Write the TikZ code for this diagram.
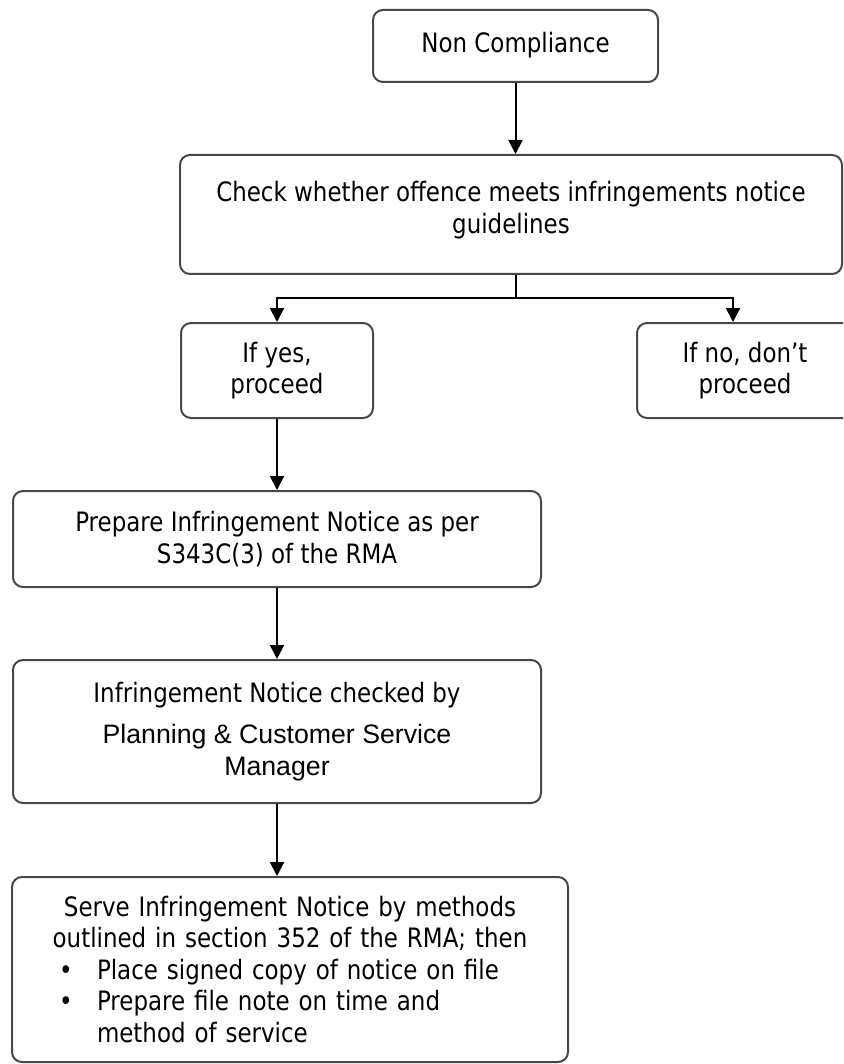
\documentclass[tikz,border=0pt]{standalone}
\usepackage{fontspec}
\setmainfont{DejaVu Sans}[FakeStretch=0.86]
\newfontfamily\arialfont{Liberation Sans}
\usetikzlibrary{arrows.meta}

\definecolor{boxgray}{HTML}{474747}

\newcommand{\bulletline}[1]{\makebox[\hsize][l]{\hspace*{29pt}\makebox[38pt][l]{\textbullet}#1}}
\newcommand{\hangline}[1]{\makebox[\hsize][l]{\hspace*{67pt}#1}}
\newcommand{\lift}[1]{\rule[-#1]{0pt}{#1}}

\begin{document}
\begin{tikzpicture}[x=1pt, y=-1pt]
  \tikzstyle{box}  = [draw=boxgray, line width=2pt, rounded corners=10pt, align=center, inner sep=0pt, font=\fontsize{26.7}{31.5}\selectfont];
  \tikzstyle{link} = [draw=black, line width=2pt];
  \tikzstyle{flow} = [link, -{Triangle[length=14pt, width=14pt]}];

  \clip (0,0) rectangle (843,1064);

  \node[box, minimum width=285pt, minimum height=72pt]  (noncomp) at (515.5, 46)   {Non Compliance\lift{8pt}};
  \node[box, minimum width=662pt, minimum height=119pt] (check)   at (511, 214.5)  {Check whether offence meets infringements notice\\guidelines\lift{14pt}};
  \node[box, minimum width=192pt, minimum height=95pt]  (yes)     at (277, 370.5)  {If yes,\\proceed};
  \node[box, minimum width=216pt, minimum height=95pt]  (no)      at (745, 370.5)  {If no, don't\\proceed};
  \node[box, minimum width=528pt, minimum height=96pt]  (prep)    at (277, 539)    {Prepare Infringement Notice as per\\S343C(3) of the RMA};
  \node[box, minimum width=528pt, minimum height=143pt] (checked) at (277, 731.5)  {Infringement Notice checked by\\[10pt]{\arialfont Planning \& Customer Service}\\{\arialfont Manager}};
  \node[box, minimum width=556pt, minimum height=185pt, text width=520pt] (serve) at (290, 969.5)
    {Serve Infringement Notice by methods\\
     outlined in section 352 of the RMA; then\\
     \bulletline{Place signed copy of notice on file}\\
     \bulletline{Prepare file note on time and}\\
     \hangline{method of service}};

  \coordinate (split) at (515.5, 298);
  \coordinate (noin)  at (733, 0);

  \draw[flow] (noncomp.south) -- (noncomp.south |- check.north);
  \draw[link] (split |- check.south) -- (split);
  \draw[flow] (split) -| (yes.north);
  \draw[flow] (split) -| (noin |- no.north);
  \draw[flow] (yes.south) -- (prep.north);
  \draw[flow] (prep.south) -- (checked.north);
  \draw[flow] (checked.south) -- (checked.south |- serve.north);
\end{tikzpicture}
\end{document}
